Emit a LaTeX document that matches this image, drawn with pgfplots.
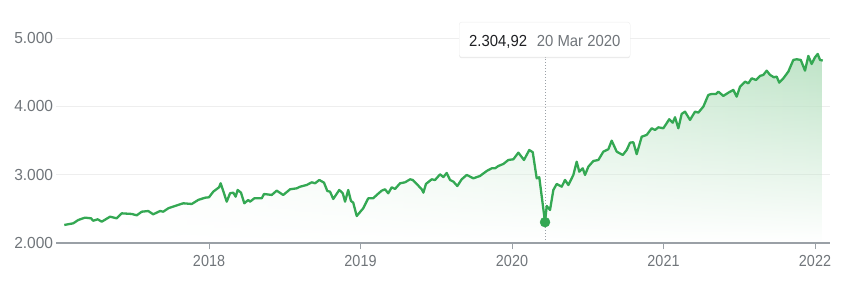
\documentclass[border=0pt]{standalone}
\usepackage{fontspec}
\setmainfont{Liberation Sans}
\newfontfamily\tipfont[FakeStretch=0.93]{Liberation Sans}
\newfontfamily\ylblfont[FakeStretch=0.97]{Liberation Sans}
\newfontfamily\xlblfont[FakeStretch=0.9]{Liberation Sans}
\usepackage{pgfplots}
\usepackage{pgfplotstable}
\pgfplotsset{compat=1.18}
\usetikzlibrary{shadows,shadings,fadings}
\definecolor{lineg}{HTML}{34A853}
\definecolor{fillg}{HTML}{BDE3C6}
\definecolor{lbl}{HTML}{70757A}
\definecolor{tipdark}{HTML}{202124}
\definecolor{axisgray}{HTML}{9AA0A6}
\definecolor{gridc}{HTML}{EEEEEE}
\tikzfading[name=fadedown, top color=transparent!0, middle color=transparent!88, bottom color=transparent!100]

\pgfplotstableread{
x y
2017.045 2264
2017.104 2288
2017.137 2337
2017.182 2371
2017.221 2361
2017.236 2326
2017.265 2347
2017.292 2312
2017.347 2385
2017.391 2361
2017.424 2434
2017.490 2425
2017.523 2405
2017.556 2458
2017.599 2468
2017.632 2420
2017.677 2468
2017.698 2458
2017.731 2508
2017.776 2542
2017.830 2581
2017.886 2571
2017.929 2630
2017.974 2663
2018.000 2669
2018.028 2751
2018.066 2815
2018.077 2874
2018.117 2605
2018.139 2728
2018.160 2737
2018.176 2678
2018.189 2776
2018.211 2737
2018.233 2581
2018.259 2630
2018.271 2605
2018.299 2654
2018.348 2654
2018.363 2717
2018.414 2703
2018.447 2766
2018.490 2703
2018.535 2786
2018.579 2800
2018.601 2824
2018.645 2849
2018.678 2888
2018.700 2874
2018.728 2922
2018.759 2883
2018.781 2761
2018.799 2751
2018.820 2644
2018.860 2776
2018.883 2727
2018.898 2605
2018.919 2776
2018.937 2615
2018.952 2590
2018.975 2395
2019.018 2508
2019.051 2654
2019.084 2654
2019.107 2703
2019.140 2766
2019.162 2786
2019.183 2727
2019.206 2815
2019.228 2791
2019.261 2874
2019.294 2888
2019.327 2932
2019.345 2922
2019.371 2864
2019.404 2786
2019.415 2737
2019.432 2864
2019.470 2932
2019.492 2922
2019.525 3005
2019.547 2965
2019.569 3025
2019.591 2922
2019.613 2898
2019.639 2834
2019.668 2932
2019.701 2996
2019.745 2947
2019.789 2981
2019.833 3054
2019.866 3093
2019.888 3093
2019.910 3127
2019.943 3157
2019.976 3215
2020.009 3225
2020.042 3322
2020.079 3215
2020.114 3361
2020.137 3328
2020.163 2947
2020.180 2962
2020.218 2305
2020.229 2542
2020.251 2483
2020.273 2776
2020.295 2864
2020.328 2824
2020.350 2922
2020.372 2849
2020.405 2996
2020.427 3190
2020.444 3044
2020.467 3093
2020.482 2996
2020.504 3117
2020.537 3200
2020.570 3215
2020.603 3337
2020.636 3372
2020.658 3498
2020.691 3337
2020.731 3288
2020.757 3361
2020.779 3468
2020.801 3475
2020.823 3300
2020.856 3556
2020.889 3581
2020.922 3679
2020.944 3654
2020.966 3693
2020.999 3679
2021.038 3811
2021.061 3761
2021.076 3840
2021.098 3679
2021.120 3889
2021.142 3922
2021.175 3801
2021.208 3922
2021.230 3908
2021.263 3996
2021.296 4167
2021.318 4181
2021.347 4181
2021.362 4215
2021.395 4152
2021.428 4200
2021.461 4240
2021.483 4142
2021.505 4288
2021.538 4361
2021.560 4337
2021.582 4410
2021.611 4386
2021.637 4445
2021.659 4460
2021.681 4522
2021.703 4460
2021.729 4425
2021.747 4435
2021.764 4347
2021.791 4410
2021.824 4508
2021.857 4679
2021.879 4689
2021.906 4679
2021.934 4522
2021.956 4738
2021.978 4620
2022.000 4718
2022.018 4767
2022.033 4679
2022.051 4669
}\spdata

\begin{document}
\begin{tikzpicture}
\path[use as bounding box] (0,0) rectangle (844pt,283pt);
\begin{axis}[
  at={(56pt,40pt)}, anchor=south west,
  scale only axis, width=774pt, height=205pt,
  xmin=2016.99, xmax=2022.099, ymin=2000, ymax=5000,
  axis x line*=bottom, axis y line*=left,
  x axis line style={-, axisgray, line width=1.5pt},
  y axis line style={draw=none},
  tick align=outside, major tick length=6.5pt,
  xtick={2018,2019,2020,2021,2022},
  xticklabels={2018,2019,2020,2021,2022},
  ytick={2000,3000,4000,5000},
  yticklabels={2.000,3.000,4.000,5.000},
  xtick style={axisgray, line width=1pt},
  ytick style={draw=none},
  xticklabel style={font=\xlblfont\fontsize{16}{16}\selectfont, text=lbl, anchor=north, inner sep=0pt, yshift=-5.5pt},
  yticklabel style={font=\ylblfont\fontsize{16}{16}\selectfont, text=lbl, anchor=east, inner sep=0pt, xshift=3.8pt},
  ymajorgrids, grid style={gridc, line width=0.8pt},
  clip=false,
]
\addplot[draw=none, forget plot, left color=white, right color=fillg, path fading=fadedown] table[x=x,y=y]{\spdata} \closedcycle;
\draw[axisgray, line width=1pt, dash pattern=on 1.2pt off 1.8pt] (axis cs:2020.218,2000) -- (axis cs:2020.218,4723);
\addplot[lineg, line width=2.3pt, line join=round, mark=none] table[x=x,y=y]{\spdata};
\addplot[only marks, mark=*, mark size=5pt, mark options={fill=lineg, draw=lineg}] coordinates {(2020.218,2305)};
\end{axis}
\node[draw=black!7, fill=white, rounded corners=2.5pt, drop shadow={shadow xshift=0pt, shadow yshift=-1pt, opacity=0.18}, minimum width=171pt, minimum height=35pt, anchor=north west, inner sep=0pt] at (459pt,261pt) {};
\node[anchor=base west, inner sep=0pt, text=tipdark, font=\tipfont\fontsize{16}{16}\selectfont] at (469pt,236.5pt) {2.304,92};
\node[anchor=base west, inner sep=0pt, text=lbl, font=\tipfont\fontsize{16}{16}\selectfont] at (536.7pt,236.5pt) {20 Mar 2020};
\end{tikzpicture}
\end{document}
